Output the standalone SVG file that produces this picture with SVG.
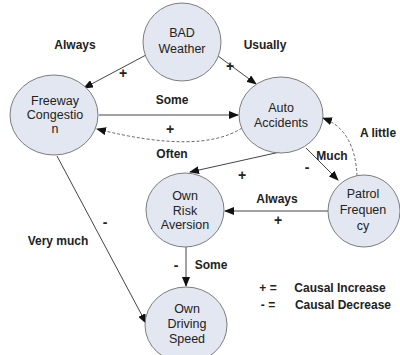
<svg xmlns="http://www.w3.org/2000/svg" width="400" height="355" viewBox="0 0 400 355">
<style>
.node{fill:#e3e7f1;stroke:#7c7c7c;stroke-width:1}
.nt{font-family:"Liberation Sans",Arial,sans-serif;font-size:12.5px;fill:#222;text-anchor:middle}
.lbl{font-family:"Liberation Sans",Arial,sans-serif;font-size:12px;font-weight:bold;fill:#222;text-anchor:middle}
.sg{font-family:"Liberation Sans",Arial,sans-serif;font-size:14px;font-weight:bold;fill:#222;text-anchor:middle}
.c{fill:none;stroke:#444;stroke-width:1;marker-end:url(#ah)}
.d{fill:none;stroke:#555;stroke-width:0.9;stroke-dasharray:3,2;marker-end:url(#ah)}
</style>
<defs>
<marker id="ah" markerWidth="10" markerHeight="8" refX="9" refY="4" orient="auto" markerUnits="userSpaceOnUse">
<path d="M0,0 L10,4 L0,8 Z" fill="#111"/>
</marker>
</defs>
<rect width="400" height="355" fill="#ffffff"/>
<g id="connectors">
<line class="c" x1="146" y1="55" x2="84" y2="88"/>
<line class="c" x1="218" y1="56" x2="256" y2="84"/>
<line class="c" x1="99" y1="115" x2="238" y2="115"/>
<path class="d" d="M242,128 Q200,155 97,129"/>
<line class="c" x1="280" y1="152" x2="190" y2="172"/>
<line class="c" x1="306" y1="148" x2="338" y2="180"/>
<path class="d" d="M357,176 Q355,130 323,118"/>
<line class="c" x1="329" y1="211" x2="225" y2="211"/>
<line class="c" x1="186" y1="247" x2="186" y2="286"/>
<line class="c" x1="57" y1="156" x2="146" y2="323"/>
</g>
<g id="labels">
<text class="lbl" x="75" y="49">Always</text>
<text class="sg" x="123" y="78">+</text>
<text class="lbl" x="265" y="49">Usually</text>
<text class="sg" x="230" y="71">+</text>
<text class="lbl" x="172" y="104">Some</text>
<text class="sg" x="170" y="134">+</text>
<text class="lbl" x="172" y="158">Often</text>
<text class="lbl" x="378" y="137">A little</text>
<text class="lbl" x="332" y="160">Much</text>
<text class="sg" x="307" y="172">-</text>
<text class="sg" x="242" y="180">+</text>
<text class="lbl" x="277" y="203">Always</text>
<text class="sg" x="278" y="225">+</text>
<text class="lbl" x="58" y="245">Very much</text>
<text class="sg" x="105" y="227">-</text>
<text class="sg" x="176" y="270">-</text>
<text class="lbl" x="211" y="269">Some</text>
<text class="lbl" x="268" y="292">+ =</text>
<text class="lbl" x="340" y="292">Causal Increase</text>
<text class="lbl" x="268" y="309">- =</text>
<text class="lbl" x="343" y="309">Causal Decrease</text>
</g>
<g id="bad-weather">
<ellipse class="node" cx="182" cy="42" rx="39" ry="39"/>
<text class="nt" x="182" y="37">BAD</text>
<text class="nt" x="182" y="53">Weather</text>
</g>
<g id="freeway-congestion">
<ellipse class="node" cx="54" cy="115" rx="44" ry="40"/>
<text class="nt" x="55" y="105">Freeway</text>
<text class="nt" x="55" y="119">Congestio</text>
<text class="nt" x="55" y="133">n</text>
</g>
<g id="auto-accidents">
<ellipse class="node" cx="281" cy="115" rx="42" ry="38"/>
<text class="nt" x="281" y="112">Auto</text>
<text class="nt" x="281" y="127">Accidents</text>
</g>
<g id="own-risk-aversion">
<ellipse class="node" cx="185" cy="210" rx="39" ry="37"/>
<text class="nt" x="185" y="200">Own</text>
<text class="nt" x="185" y="215">Risk</text>
<text class="nt" x="185" y="229">Aversion</text>
</g>
<g id="patrol-frequency">
<ellipse class="node" cx="364" cy="211" rx="36" ry="36"/>
<text class="nt" x="363" y="198">Patrol</text>
<text class="nt" x="363" y="214">Frequen</text>
<text class="nt" x="363" y="230">cy</text>
</g>
<g id="own-driving-speed">
<ellipse class="node" cx="186" cy="325" rx="41" ry="38"/>
<text class="nt" x="187" y="313">Own</text>
<text class="nt" x="187" y="328">Driving</text>
<text class="nt" x="187" y="343">Speed</text>
</g>
</svg>
